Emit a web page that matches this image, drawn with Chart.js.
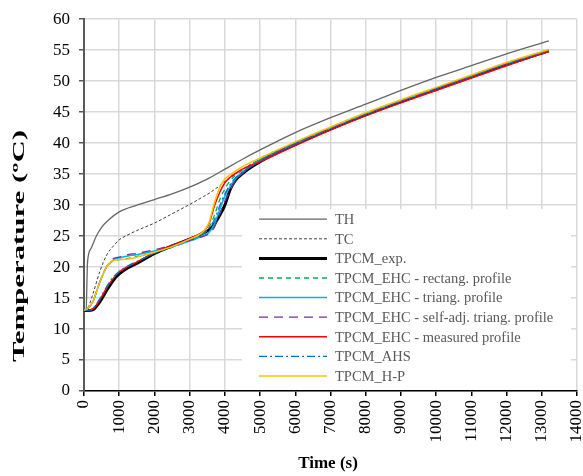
<!DOCTYPE html>
<html>
<head>
<meta charset="utf-8">
<script src="https://cdn.jsdelivr.net/npm/chart.js@4.4.1/dist/chart.umd.min.js"></script>
<style>
  html, body { margin: 0; padding: 0; background: #fff; }
  canvas { display: block; }
</style>
</head>
<body>
<canvas id="chart" width="583" height="476"></canvas>
<script>
// Tiempos (s)
const timesTH = [0, 60, 100, 200, 350, 500, 680, 1000, 1500, 2000, 2500, 3000, 3500, 4000, 4500, 5000, 6000, 7000, 8000, 9000, 10000, 11000, 12000, 13200];
const times = [0, 100, 250, 450, 650, 850, 1000, 1250, 1500, 2000, 2500, 3000, 3400, 3550, 3700, 3850, 4000, 4150, 4300, 4500, 5000, 6000, 7000, 8000, 9000, 10000, 11000, 12000, 13200];

// Temperaturas (ºC)
const th = [13, 13.1, 20.8, 23.0, 25.0, 26.4, 27.5, 28.9, 30.0, 30.9, 31.8, 32.9, 34.2, 35.8, 37.4, 38.9, 41.7, 44.1, 46.3, 48.5, 50.6, 52.5, 54.4, 56.5];
const tc = [13, 13.3, 15.6, 19.3, 22.0, 23.5, 24.4, 25.2, 25.9, 27.1, 28.6, 30.1, 31.4, 31.9, 32.5, 33.1, 33.8, 34.4, 35.0, 35.8, 37.4, 40.1, 42.5, 44.8, 46.9, 48.9, 50.9, 52.9, 55.1];
const pcmExp = [13, 13.0, 13.1, 14.4, 16.3, 18.0, 18.9, 19.9, 20.6, 22.2, 23.4, 24.5, 25.5, 26.0, 26.9, 28.3, 30.0, 32.5, 34.0, 35.1, 37.0, 39.8, 42.3, 44.6, 46.7, 48.7, 50.7, 52.7, 54.9];
const ehcRect = [13, 13.3, 14.4, 17.6, 20.1, 21.0, 21.2, 21.4, 21.7, 22.3, 23.2, 24.3, 25.4, 26.4, 28.3, 30.8, 32.6, 33.9, 34.8, 35.6, 37.4, 40.0, 42.5, 44.8, 46.9, 48.9, 50.9, 52.9, 55.0];
const ehcTriang = [13, 13.3, 14.4, 17.6, 20.1, 21.2, 21.5, 21.8, 22.0, 22.6, 23.3, 24.2, 25.1, 25.6, 26.9, 29.2, 31.4, 33.0, 34.2, 35.3, 37.2, 39.9, 42.4, 44.7, 46.8, 48.8, 50.8, 52.8, 55.0];
const ehcSelfAdj = [13, 13.3, 14.4, 17.6, 20.1, 21.4, 21.6, 22.0, 22.2, 22.8, 23.5, 24.3, 25.0, 25.4, 26.4, 28.5, 30.6, 32.4, 33.9, 35.1, 37.1, 39.9, 42.4, 44.7, 46.8, 48.8, 50.8, 52.8, 55.0];
const ehcMeasured = [13, 13.0, 13.2, 14.7, 16.7, 18.3, 19.2, 20.1, 20.8, 22.3, 23.5, 24.6, 25.8, 27.0, 29.8, 32.0, 33.6, 34.5, 35.1, 35.8, 37.0, 39.6, 42.1, 44.4, 46.5, 48.5, 50.5, 52.5, 54.8];
const ahs = [13, 13.0, 13.3, 14.9, 16.9, 18.5, 19.3, 20.2, 20.9, 22.2, 23.4, 24.5, 25.5, 26.3, 27.6, 29.8, 31.8, 33.3, 34.4, 35.3, 37.2, 39.9, 42.4, 44.7, 46.8, 48.8, 50.8, 52.8, 55.0];
const hp = [13, 13.3, 14.4, 17.6, 20.1, 21.1, 21.2, 21.3, 21.6, 22.4, 23.3, 24.5, 25.8, 27.2, 30.3, 32.8, 34.2, 34.9, 35.5, 36.2, 37.6, 40.2, 42.6, 44.9, 47.0, 49.0, 51.0, 53.0, 55.1];

const seriesNames = ["TH", "TC", "TPCM_exp.", "TPCM_EHC - rectang. profile", "TPCM_EHC - triang. profile",
  "TPCM_EHC - self-adj. triang. profile", "TPCM_EHC - measured profile", "TPCM_AHS", "TPCM_H-P"];

function pts(xs, ys) {
  return xs.map(function (x, i) { return { x: x, y: ys[i] }; });
}

// estilos de cada serie
const styles = [
  { color: "#666666", width: 1.3, dash: [] },
  { color: "#404040", width: 1, dash: [3, 2] },
  { color: "#000000", width: 3, dash: [] },
  { color: "#00B050", width: 1.3, dash: [5, 4] },
  { color: "#00B0F0", width: 1.5, dash: [] },
  { color: "#7030A0", width: 1.3, dash: [9, 6] },
  { color: "#FF0000", width: 1.5, dash: [] },
  { color: "#0070C0", width: 1.3, dash: [8, 3, 2, 3] },
  { color: "#FFC000", width: 1.5, dash: [] }
];

const seriesData = [pts(timesTH, th), pts(times, tc), pts(times, pcmExp), pts(times, ehcRect),
  pts(times, ehcTriang), pts(times, ehcSelfAdj), pts(times, ehcMeasured), pts(times, ahs), pts(times, hp)];

const datasets = seriesData.map(function (d, i) {
  return {
    label: seriesNames[i],
    data: d,
    borderColor: styles[i].color,
    borderWidth: styles[i].width,
    borderDash: styles[i].dash,
    pointRadius: 0,
    fill: false,
    cubicInterpolationMode: "monotone",
    order: 9 - i
  };
});

const FONT = "'Liberation Serif', 'Times New Roman', serif";

// leyenda dentro del área del gráfico
const legendBox = {
  id: "legendBox",
  afterDatasetsDraw(chart) {
    const ctx = chart.ctx;
    const a = chart.chartArea;
    ctx.save();
    ctx.fillStyle = "#ffffff";
    ctx.fillRect(a.left + 158, a.top + 190, a.right - a.left - 164, a.bottom - a.top - 191);
    ctx.font = "14.5px " + FONT;
    ctx.textBaseline = "middle";
    ctx.textAlign = "left";
    seriesNames.forEach(function (name, i) {
      const y = a.top + 200 + i * 19.6;
      const s = styles[i];
      ctx.beginPath();
      ctx.strokeStyle = s.color;
      ctx.lineWidth = s.width;
      ctx.setLineDash(s.dash);
      ctx.moveTo(a.left + 175, y);
      ctx.lineTo(a.left + 243, y);
      ctx.stroke();
      ctx.setLineDash([]);
      ctx.fillStyle = "#595959";
      ctx.fillText(name, a.left + 251, y + 1);
    });
    ctx.restore();
  }
};

// títulos de los ejes
const axisTitles = {
  id: "axisTitles",
  afterDraw(chart) {
    const ctx = chart.ctx;
    ctx.save();
    ctx.fillStyle = "#000000";
    ctx.textAlign = "center";
    ctx.textBaseline = "middle";
    ctx.font = "bold 17px " + FONT;
    ctx.fillText("Time (s)", 328, 464);
    ctx.font = "bold 16px " + FONT;
    const label = "Temperature (ºC)";
    const stretch = 232 / ctx.measureText(label).width;
    ctx.translate(20, 246);
    ctx.rotate(-Math.PI / 2);
    ctx.scale(stretch, 1);
    ctx.fillText(label, 0, 0);
    ctx.restore();
  }
};

new Chart(document.getElementById("chart"), {
  type: "line",
  data: { datasets: datasets },
  options: {
    responsive: false,
    animation: false,
    devicePixelRatio: 1,
    layout: { padding: { left: 0, right: 6, top: 15, bottom: 0 } },
    plugins: {
      legend: { display: false },
      tooltip: { enabled: false }
    },
    scales: {
      x: {
        type: "linear",
        min: 0,
        max: 14000,
        ticks: {
          stepSize: 1000,
          minRotation: 90,
          maxRotation: 90,
          padding: 4,
          color: "#000000",
          font: { family: FONT, size: 17 },
          callback: function (value) { return String(value); }
        },
        grid: { color: "#d9d9d9", lineWidth: 1.5, tickColor: "#000000", tickLength: 5 },
        border: { color: "#000000", width: 1.5 },
        afterFit: function (scale) {
          scale.height = 85;
          scale.paddingLeft = 0;
          scale.paddingRight = 0;
        }
      },
      y: {
        min: 0,
        max: 60,
        ticks: {
          stepSize: 5,
          padding: 9,
          color: "#000000",
          font: { family: FONT, size: 17 }
        },
        grid: { color: "#d9d9d9", lineWidth: 1.5, tickColor: "#595959", tickLength: 5 },
        border: { color: "#595959", width: 2 },
        afterFit: function (scale) {
          scale.width = 84;
        }
      }
    }
  },
  plugins: [legendBox, axisTitles]
});
</script>
</body>
</html>
